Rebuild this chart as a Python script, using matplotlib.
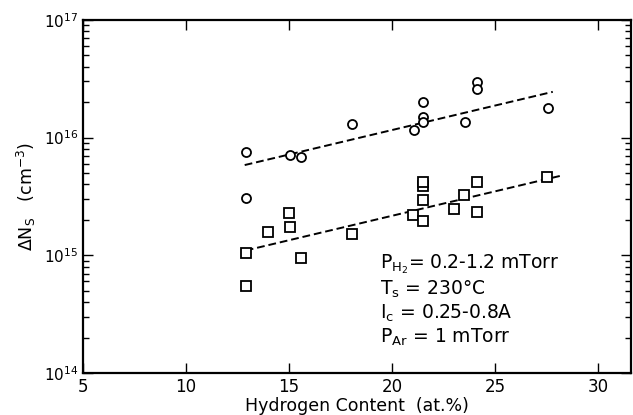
import numpy as np
import matplotlib.pyplot as plt

# circles (upper set)
circ_x = [12.9, 12.9, 15.05, 15.6, 18.05, 21.05, 21.5, 21.5, 21.5, 23.55, 24.1, 24.1, 27.55]
circ_y = [7.6e15, 3.05e15, 7.1e15, 6.9e15, 1.3e16, 1.17e16, 2.02e16, 1.5e16, 1.37e16,
          1.37e16, 2.98e16, 2.57e16, 1.78e16]

# squares (lower set)
sq_x = [12.9, 12.9, 14.0, 15.0, 15.05, 15.6, 18.05, 21.0, 21.5, 21.5, 21.5, 21.5,
        23.0, 23.5, 24.1, 24.1, 27.5]
sq_y = [1.04e15, 5.5e14, 1.59e15, 2.28e15, 1.74e15, 9.5e14, 1.52e15, 2.2e15, 1.95e15,
        2.95e15, 3.9e15, 4.2e15, 2.5e15, 3.26e15, 4.2e15, 2.35e15, 4.67e15]

# dashed fit lines
circ_fit_x = [12.85, 27.8]
circ_fit_y = [5.85e15, 2.45e16]
sq_fit_x = [12.9, 28.2]
sq_fit_y = [1.1e15, 4.75e15]

notes = [r'P$_{\mathregular{H_2}}$= 0.2-1.2 mTorr',
         r'T$_{\mathregular{s}}$ = 230°C',
         r'I$_{\mathregular{c}}$ = 0.25-0.8A',
         r'P$_{\mathregular{Ar}}$ = 1 mTorr']

fig = plt.figure(figsize=(6.33, 4.15), dpi=100)
ax = fig.add_axes([0.131, 0.101, 0.866, 0.851])

ax.plot(circ_fit_x, circ_fit_y, color='black', lw=1.4, ls=(0, (4, 2)))
ax.plot(sq_fit_x, sq_fit_y, color='black', lw=1.4, ls=(0, (4, 2)))
ax.plot(circ_x, circ_y, 'o', ms=6.5, mfc='white', mec='black', mew=1.3, ls='none')
ax.plot(sq_x, sq_y, 's', ms=6.5, mfc='white', mec='black', mew=1.3, ls='none')

ax.set_yscale('log')
ax.set_ylim(1e14, 1e17)
ax.set_xlim(5, 31.6)
ax.set_xticks([5, 10, 15, 20, 25, 30])

ax.tick_params(axis='both', which='both', direction='in', top=True, right=True)
ax.tick_params(axis='both', which='major', length=7, width=1, labelsize=12)
ax.tick_params(axis='y', which='minor', length=4, width=1)
ax.tick_params(axis='y', which='major', labelsize=11)
for s in ax.spines.values():
    s.set_linewidth(1.6)

ax.set_xlabel('Hydrogen Content  (at.%)', fontsize=12.5, labelpad=1)
ax.set_ylabel(r'$\Delta$N$_{\mathregular{S}}$   (cm$^{\mathregular{-3}}$)', fontsize=12.5, labelpad=4)

for i, t in enumerate(notes):
    ax.text(0.542, 0.307 - i * 0.069, t, transform=ax.transAxes, fontsize=13.5, va='center')

fig.savefig('out.png', dpi=100)
